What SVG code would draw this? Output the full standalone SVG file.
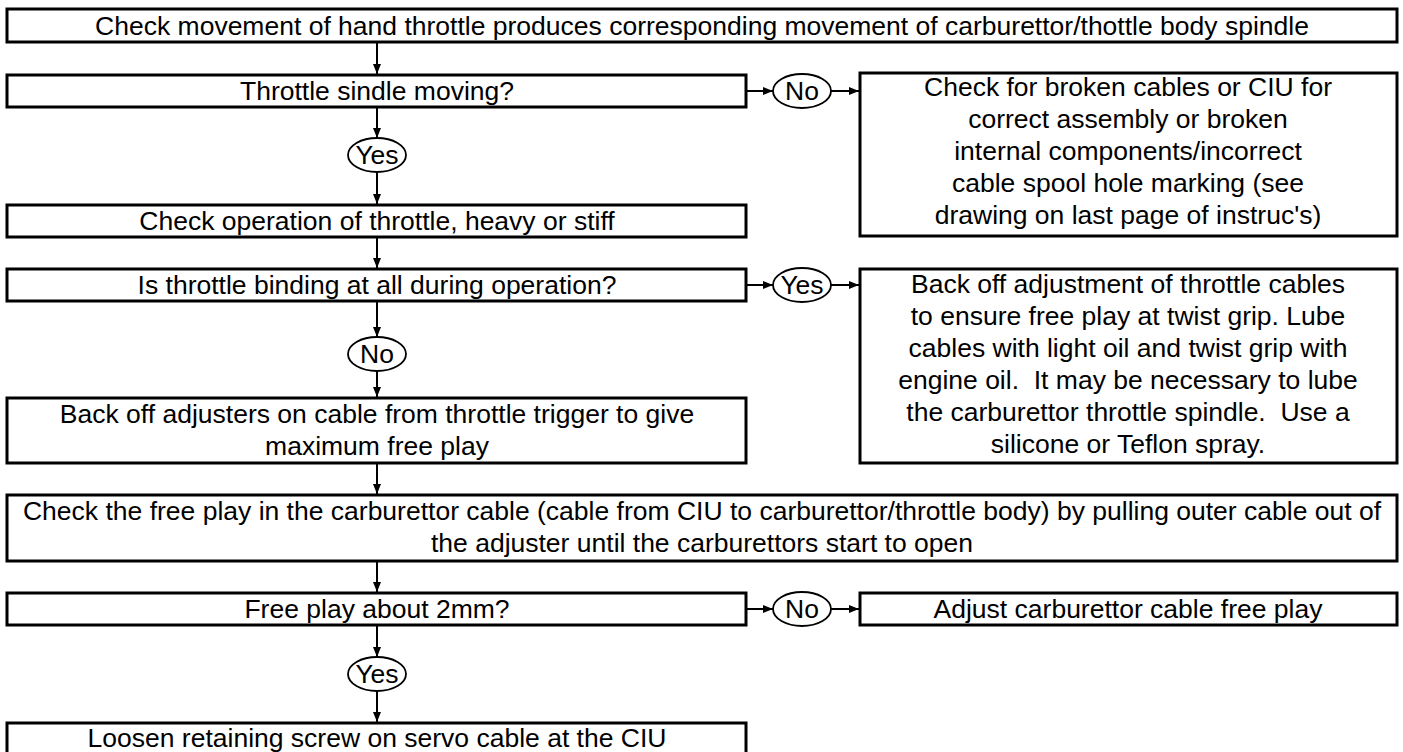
<svg xmlns="http://www.w3.org/2000/svg" width="1403" height="752" viewBox="0 0 1403 752">
<style>
.box{fill:#fff;stroke:#000;stroke-width:3}
.ell{fill:#fff;stroke:#000;stroke-width:1.8}
.t{font-family:"Liberation Sans",Arial,sans-serif;font-size:26.5px;fill:#000;text-anchor:middle}
.c{stroke:#000;stroke-width:2;fill:none}
</style>
<defs>
<marker id="ah" markerUnits="userSpaceOnUse" markerWidth="12" markerHeight="10" refX="10" refY="5" orient="auto">
<path d="M0,1 L10,5 L0,9 Z" fill="#000"/>
</marker>
</defs>
<rect width="1403" height="752" fill="#fff"/>
<g id="connectors">
<line class="c" x1="377" y1="42" x2="377" y2="74" marker-end="url(#ah)"/>
<line class="c" x1="377" y1="107" x2="377" y2="138" marker-end="url(#ah)"/>
<line class="c" x1="377" y1="172" x2="377" y2="204" marker-end="url(#ah)"/>
<line class="c" x1="377" y1="237" x2="377" y2="268" marker-end="url(#ah)"/>
<line class="c" x1="377" y1="301" x2="377" y2="337" marker-end="url(#ah)"/>
<line class="c" x1="377" y1="370" x2="377" y2="397" marker-end="url(#ah)"/>
<line class="c" x1="377" y1="463" x2="377" y2="494" marker-end="url(#ah)"/>
<line class="c" x1="377" y1="561" x2="377" y2="592" marker-end="url(#ah)"/>
<line class="c" x1="377" y1="625" x2="377" y2="657" marker-end="url(#ah)"/>
<line class="c" x1="377" y1="691" x2="377" y2="722" marker-end="url(#ah)"/>
<line class="c" x1="746" y1="91" x2="773" y2="91" marker-end="url(#ah)"/>
<line class="c" x1="831" y1="91" x2="859" y2="91" marker-end="url(#ah)"/>
<line class="c" x1="746" y1="285" x2="773" y2="285" marker-end="url(#ah)"/>
<line class="c" x1="831" y1="285" x2="859" y2="285" marker-end="url(#ah)"/>
<line class="c" x1="746" y1="609" x2="773" y2="609" marker-end="url(#ah)"/>
<line class="c" x1="831" y1="609" x2="859" y2="609" marker-end="url(#ah)"/>
</g>
<g id="n1"><rect class="box" x="7" y="9" width="1390" height="33"/><text class="t" x="702" y="35">Check movement of hand throttle produces corresponding movement of carburettor/thottle body spindle</text></g>
<g id="n2"><rect class="box" x="7" y="75" width="739" height="32"/><text class="t" x="377" y="100">Throttle sindle moving?</text></g>
<g id="d1"><ellipse class="ell" cx="802" cy="91" rx="29" ry="17"/><text class="t" x="802" y="100">No</text></g>
<g id="n3"><rect class="box" x="860" y="73" width="537" height="163"/>
<text class="t" x="1128" y="96">Check for broken cables or CIU for</text>
<text class="t" x="1128" y="128">correct assembly or broken</text>
<text class="t" x="1128" y="160">internal components/incorrect</text>
<text class="t" x="1128" y="192">cable spool hole marking (see</text>
<text class="t" x="1128" y="224">drawing on last page of instruc's)</text></g>
<g id="d2"><ellipse class="ell" cx="377" cy="155" rx="29" ry="17"/><text class="t" x="377" y="164">Yes</text></g>
<g id="n4"><rect class="box" x="7" y="205" width="739" height="32"/><text class="t" x="377" y="230">Check operation of throttle, heavy or stiff</text></g>
<g id="n5"><rect class="box" x="7" y="269" width="739" height="32"/><text class="t" x="377" y="294">Is throttle binding at all during operation?</text></g>
<g id="d3"><ellipse class="ell" cx="802" cy="285" rx="29" ry="17"/><text class="t" x="802" y="294">Yes</text></g>
<g id="n6"><rect class="box" x="860" y="269" width="537" height="194"/>
<text class="t" x="1128" y="293">Back off adjustment of throttle cables</text>
<text class="t" x="1128" y="325">to ensure free play at twist grip. Lube</text>
<text class="t" x="1128" y="357">cables with light oil and twist grip with</text>
<text class="t" x="1128" y="389" xml:space="preserve">engine oil.  It may be necessary to lube</text>
<text class="t" x="1128" y="421" xml:space="preserve">the carburettor throttle spindle.  Use a</text>
<text class="t" x="1128" y="453">silicone or Teflon spray.</text></g>
<g id="d4"><ellipse class="ell" cx="377" cy="354" rx="29" ry="17"/><text class="t" x="377" y="363">No</text></g>
<g id="n7"><rect class="box" x="7" y="398" width="739" height="65"/>
<text class="t" x="377" y="423">Back off adjusters on cable from throttle trigger to give</text>
<text class="t" x="377" y="455">maximum free play</text></g>
<g id="n8"><rect class="box" x="7" y="495" width="1390" height="66"/>
<text class="t" x="702" y="520">Check the free play in the carburettor cable (cable from CIU to carburettor/throttle body) by pulling outer cable out of</text>
<text class="t" x="702" y="552">the adjuster until the carburettors start to open</text></g>
<g id="n9"><rect class="box" x="7" y="593" width="739" height="32"/><text class="t" x="377" y="618">Free play about 2mm?</text></g>
<g id="d5"><ellipse class="ell" cx="802" cy="609" rx="29" ry="17"/><text class="t" x="802" y="618">No</text></g>
<g id="n10"><rect class="box" x="860" y="593" width="537" height="32"/><text class="t" x="1128" y="618">Adjust carburettor cable free play</text></g>
<g id="d6"><ellipse class="ell" cx="377" cy="674" rx="29" ry="17"/><text class="t" x="377" y="683">Yes</text></g>
<g id="n11"><rect class="box" x="7" y="723" width="739" height="40"/><text class="t" x="377" y="747">Loosen retaining screw on servo cable at the CIU</text></g>
</svg>
